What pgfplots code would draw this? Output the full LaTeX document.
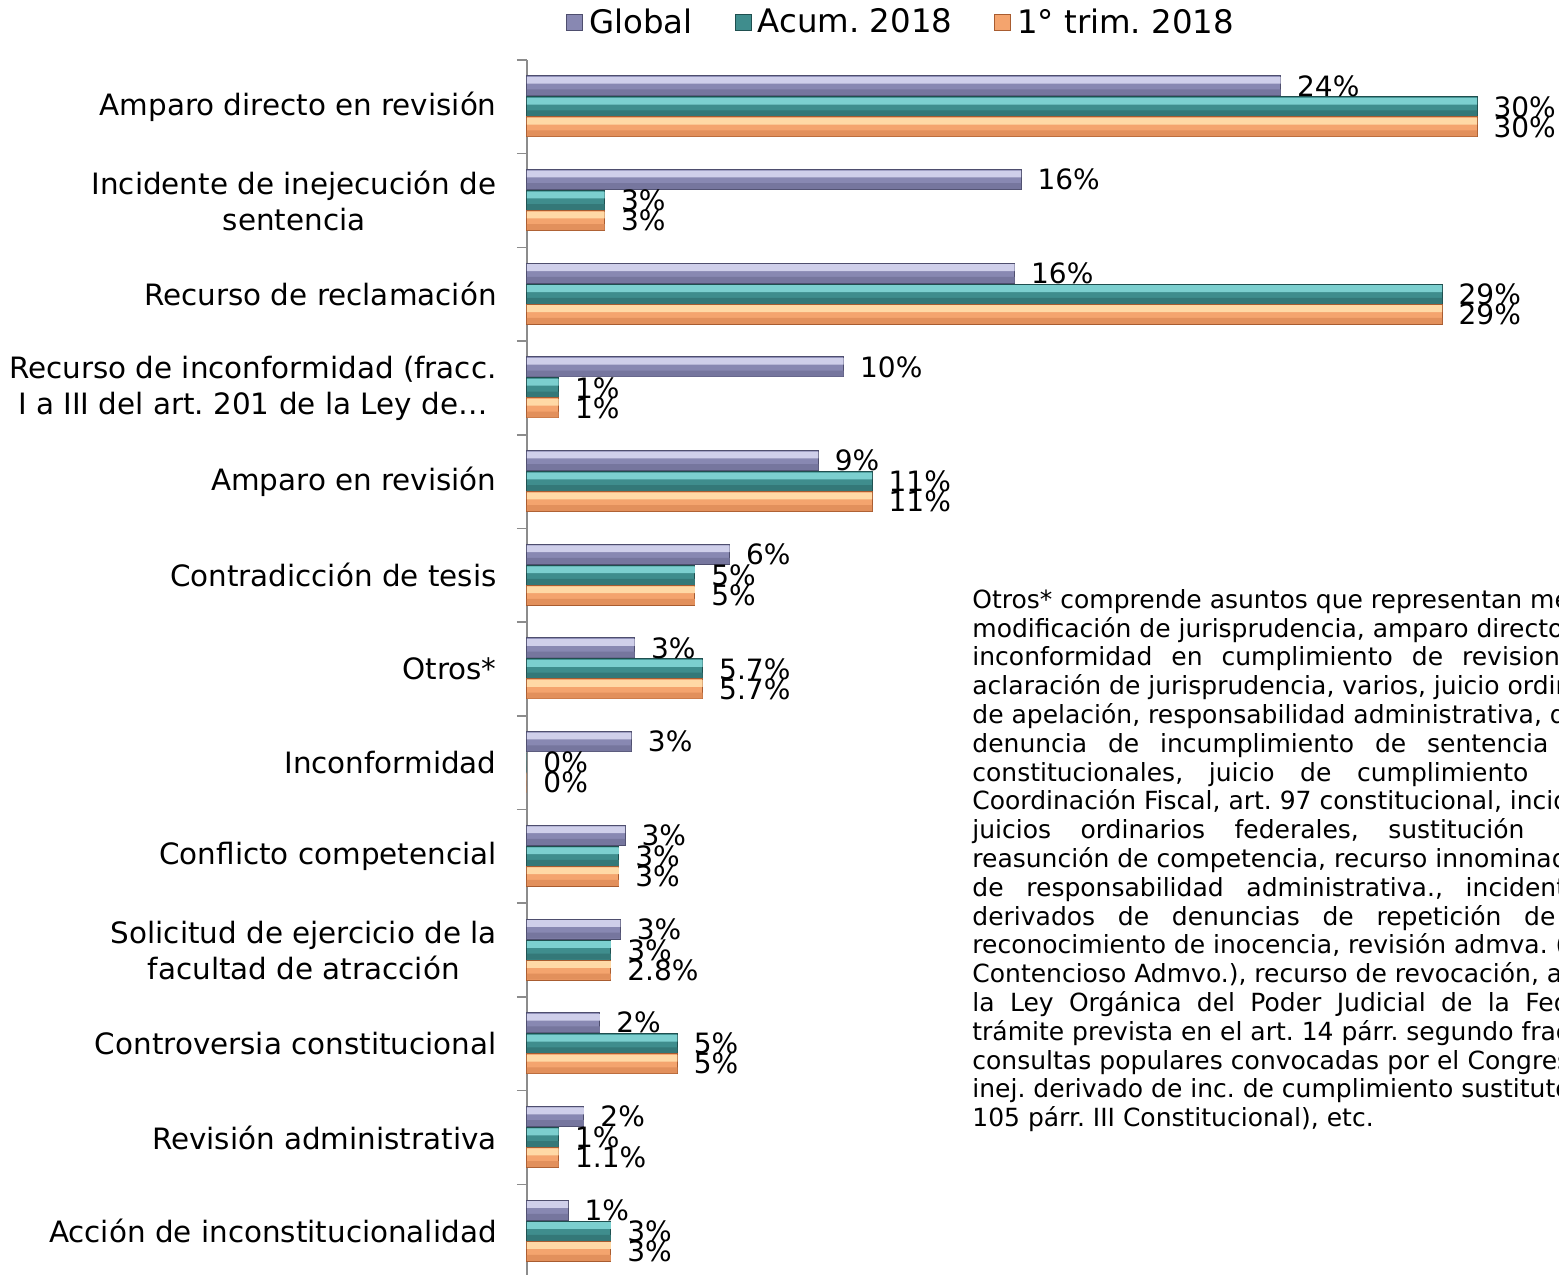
\documentclass[border=0pt]{standalone}
\usepackage{fontspec}
\setmainfont{DejaVu Sans}
\usepackage{pgfplots}
\usepackage{pgfplotstable}
\pgfplotsset{compat=1.18}
\frenchspacing
\definecolor{axisgray}{HTML}{8C8C8C}
\definecolor{gtop}{HTML}{CFCFEA}
\definecolor{gmid}{HTML}{8888B2}
\definecolor{gbot}{HTML}{76769E}
\definecolor{gedge}{HTML}{4E4E6E}
\definecolor{atop}{HTML}{7CCFCF}
\definecolor{amid}{HTML}{3F8D8D}
\definecolor{abot}{HTML}{347878}
\definecolor{aedge}{HTML}{1F4F4F}
\definecolor{ttop}{HTML}{FFD9A6}
\definecolor{tmid}{HTML}{F4A46E}
\definecolor{tbot}{HTML}{E2905C}
\definecolor{tedge}{HTML}{A85C30}

% y = category (12 = top), g = Global, a = Acum. 2018, t = 1o trim. 2018
\pgfplotstableread{
y  g     glab  a     alab  t     tlab
12 23.8  24    30.0  30    30.0  30
11 15.6  16    2.45  3     2.45  3
10 15.4  16    28.9  29    28.9  29
9  10.0  10    1.0   1     1.0   1
8  9.2   9     10.9  11    10.9  11
7  6.4   6     5.3   5     5.3   5
6  3.4   3     5.55  5.7   5.55  5.7
5  3.3   3     0     0     0     0
4  3.1   3     2.9   3     2.9   3
3  2.95  3     2.65  3     2.65  2.8
2  2.3   2     4.75  5     4.75  5
1  1.8   2     1.0   1     1.0   1.1
0  1.3   1     2.65  3     2.65  3
}\datatable

\pgfplotsset{
  mainbar/.style={line width=0.5pt, nodes near coords={\pgfplotspointmeta\%},
    point meta=explicit symbolic},
  strip/.style={draw=none, forget plot},
}
% justified line of a given width
\newcommand{\jl}[2]{\makebox[#1][s]{#2}}
\begin{document}
\begin{tikzpicture}[x=1pt,y=1pt]
\clip (0,0) rectangle (779.5,637.5);
\begin{axis}[
  at={(263.5pt,607.5pt)}, anchor=north west,
  scale only axis, width=475pt, height=609pt,
  xbar, bar width=10pt,
  xmin=0, xmax=30, ymin=-0.5, ymax=12.5,
  axis x line=none,
  axis y line*=left,
  y axis line style={-, draw=axisgray, line width=0.8pt},
  xtick=\empty,
  ytick={0,...,12},
  yticklabels={
    Acción de inconstitucionalidad,
    Revisión administrativa,
    Controversia constitucional,
    {Solicitud de ejercicio de la\\facultad de atracción},
    Conflicto competencial,
    Inconformidad,
    Otros*,
    Contradicción de tesis,
    Amparo en revisión,
    {Recurso de inconformidad (fracc.\\I a III del art. 201 de la Ley de…},
    Recurso de reclamación,
    {Incidente de inejecución de\\sentencia},
    Amparo directo en revisión},
  major tick length=0pt,
  minor ytick={-0.5,0.5,...,12.5},
  minor tick length=5pt,
  tick align=outside,
  ytick pos=left,
  minor tick style={draw=axisgray, line width=0.8pt},
  yticklabel style={align=center, inner sep=0pt, xshift=-15pt,
    font=\fontsize{14.7}{18}\selectfont},
  every node near coord/.append style={anchor=west, xshift=8pt, inner sep=0pt,
    font=\fontsize{14}{16}\selectfont, text=black},
  clip=false,
  legend columns=3,
  legend style={at={(0.395,1.031)}, anchor=center, draw=none, fill=none,
    font=\fontsize{16.2}{19}\selectfont,
    /tikz/every odd column/.append style={column sep=1pt},
    /tikz/every even column/.append style={column sep=19pt}},
  legend image code/.code={\path[#1] (0pt,-4pt) rectangle (8pt,4pt);},
]
% Global
\addplot[mainbar, fill=gmid, draw=gedge, bar shift=10.5pt]
  table[x=g, y=y, meta=glab] {\datatable};
\addplot[strip, fill=gtop, bar width=3.4pt, bar shift=13.3pt] table[x=g, y=y] {\datatable};
\addplot[strip, fill=gbot, bar width=3pt, bar shift=7.2pt] table[x=g, y=y] {\datatable};
% Acum. 2018
\addplot[mainbar, fill=amid, draw=aedge, bar shift=0pt]
  table[x=a, y=y, meta=alab] {\datatable};
\addplot[strip, fill=atop, bar width=3.4pt, bar shift=2.8pt] table[x=a, y=y] {\datatable};
\addplot[strip, fill=abot, bar width=3pt, bar shift=-3.3pt] table[x=a, y=y] {\datatable};
% 1o trim. 2018
\addplot[mainbar, fill=tmid, draw=tedge, bar shift=-10pt]
  table[x=t, y=y, meta=tlab] {\datatable};
\addplot[strip, fill=ttop, bar width=3.4pt, bar shift=-7.2pt] table[x=t, y=y] {\datatable};
\addplot[strip, fill=tbot, bar width=3pt, bar shift=-13.3pt] table[x=t, y=y] {\datatable};
\legend{Global, Acum. 2018, 1° trim. 2018}
\end{axis}
\node[anchor=north west, inner sep=0pt, align=left,
  font=\fontsize{12.5}{14.4}\selectfont] at (486,343) {%
Otros* comprende asuntos que representan menos\\
modificación de jurisprudencia, amparo directo,\\
\jl{308pt}{inconformidad en cumplimiento de revisiones}\\
aclaración de jurisprudencia, varios, juicio ordinario\\
de apelación, responsabilidad administrativa, dictamen\\
\jl{288pt}{denuncia de incumplimiento de sentencia}\\
\jl{278pt}{constitucionales, juicio de cumplimiento}\\
Coordinación Fiscal, art. 97 constitucional, incidente\\
\jl{276pt}{juicios ordinarios federales, sustitución}\\
reasunción de competencia, recurso innominado\\
\jl{311pt}{de responsabilidad administrativa., incidentes}\\
\jl{291.5pt}{derivados de denuncias de repetición de}\\
reconocimiento de inocencia, revisión admva. (Ley\\
Contencioso Admvo.), recurso de revocación, art.\\
\jl{345pt}{la Ley Orgánica del Poder Judicial de la Federación}\\
trámite prevista en el art. 14 párr. segundo fracción\\
\jl{306.5pt}{consultas populares convocadas por el Congreso}\\
inej. derivado de inc. de cumplimiento sustituto\\
105 párr. III Constitucional), etc.};
\end{tikzpicture}
\end{document}
